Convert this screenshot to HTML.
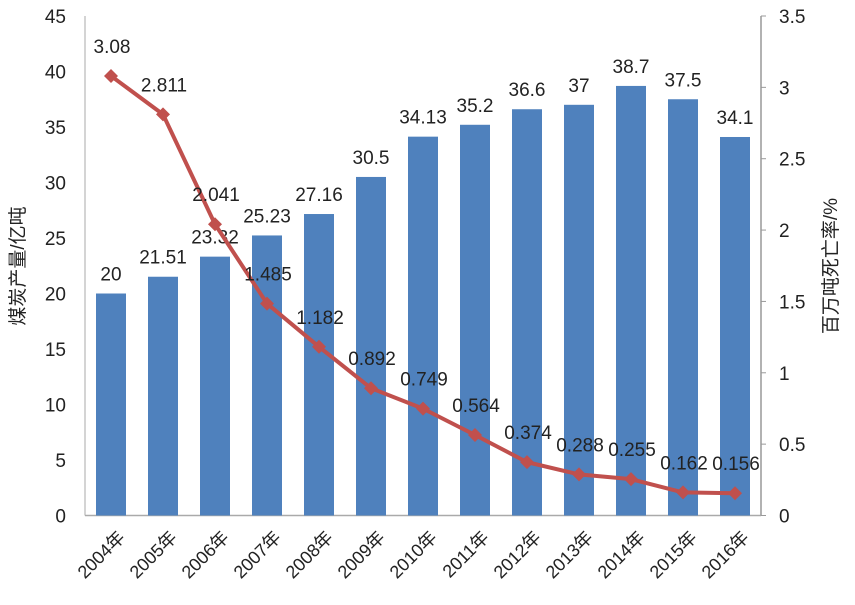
<!DOCTYPE html>
<html><head><meta charset="utf-8"><style>
body{margin:0;background:#fff}
text{font-family:"Liberation Sans","Noto Sans CJK SC",sans-serif;fill:#222}
</style></head><body>
<svg width="855" height="600" xmlns="http://www.w3.org/2000/svg">
<g id="c"></g>
<script>
const ns="http://www.w3.org/2000/svg",g=document.getElementById('c');
function el(t,a,txt){const e=document.createElementNS(ns,t);for(const k in a)e.setAttribute(k,a[k]);if(txt!==undefined)e.textContent=txt;g.appendChild(e);return e;}
const y0=515.5,ky=(515.5-16)/45,kr=(515.5-16)/3.5;
const bars=[20,21.51,23.32,25.23,27.16,30.5,34.13,35.2,36.6,37,38.7,37.5,34.1];
const rate=[3.08,2.811,2.041,1.485,1.182,0.892,0.749,0.564,0.374,0.288,0.255,0.162,0.156];
el('line',{x1:85,y1:16,x2:85,y2:y0,stroke:'#aaa','stroke-width':1});
el('line',{x1:85,y1:y0,x2:761,y2:y0,stroke:'#aaa','stroke-width':1.5});
el('line',{x1:761,y1:16,x2:761,y2:y0,stroke:'#999','stroke-width':1.5});
for(let v=0;v<=45;v+=5){el('text',{x:66,y:y0-v*ky+7,'text-anchor':'end','font-size':19},v);}
for(let i=0;i<=7;i++){const v=i*0.5,y=y0-v*kr;el('line',{x1:761,y1:y,x2:766,y2:y,stroke:'#999'});el('text',{x:779,y:y+7,'font-size':19},v);}
bars.forEach((b,i)=>{const cx=111+52*i,h=b*ky;el('rect',{x:cx-15,y:y0-h,width:30,height:h,fill:'#4F81BD'});
el('text',{x:cx,y:y0-h-13,'text-anchor':'middle','font-size':19},b);
el('text',{x:cx+15,y:y0+23,'text-anchor':'end','font-size':18,transform:`rotate(-45 ${cx+15} ${y0+23})`},(2004+i)+'年');});
let pts=rate.map((r,i)=>[111+52*i,y0-r*kr]);
el('polyline',{points:pts.map(p=>p.join(',')).join(' '),fill:'none',stroke:'#C0504D','stroke-width':4,'stroke-linejoin':'round'});
pts.forEach((p,i)=>{el('polygon',{points:`${p[0]},${p[1]-7} ${p[0]+7},${p[1]} ${p[0]},${p[1]+7} ${p[0]-7},${p[1]}`,fill:'#C0504D'});
el('text',{x:p[0]+1,y:p[1]-23,'text-anchor':'middle','font-size':19},rate[i]);});
el('text',{x:24,y:266,'text-anchor':'middle','font-size':19,transform:'rotate(-90 24 266)'},'煤炭产量/亿吨');
el('text',{x:837,y:266,'text-anchor':'middle','font-size':19,transform:'rotate(-90 837 266)'},'百万吨死亡率/%');
</script>
</svg>
</body></html>
